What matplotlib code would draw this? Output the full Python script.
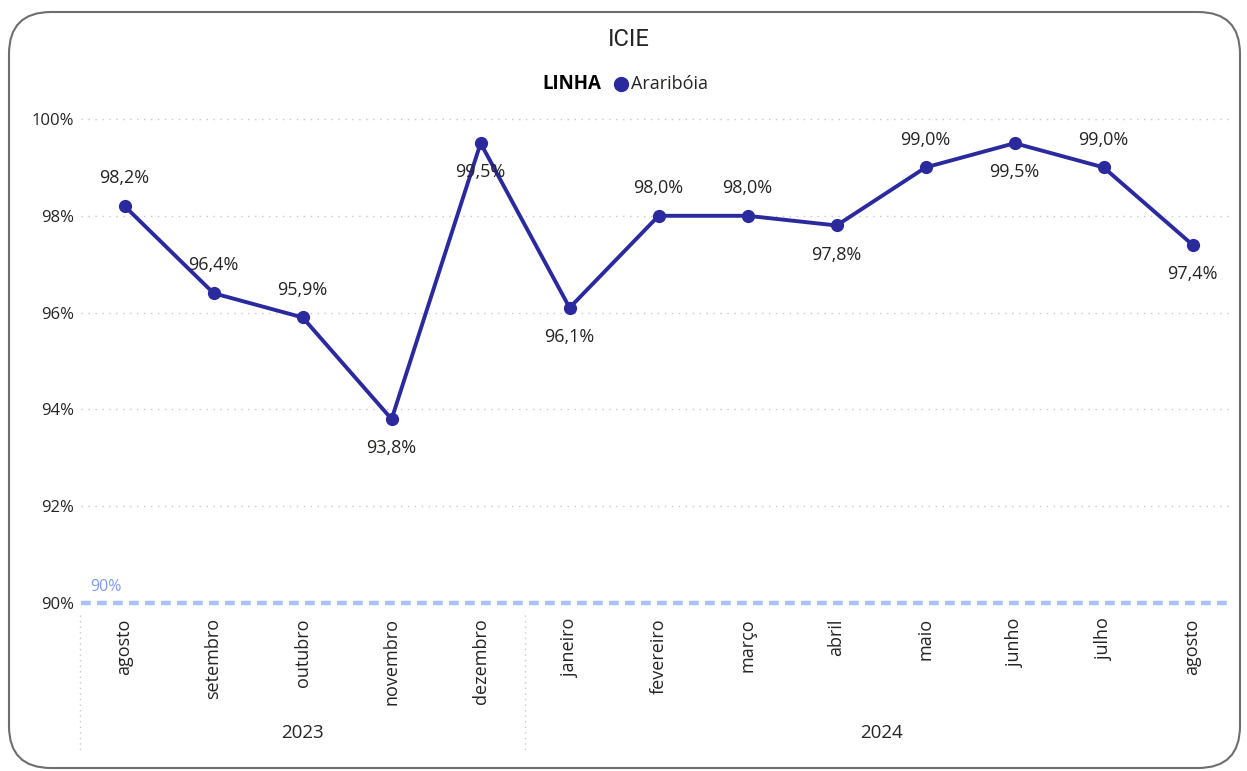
import matplotlib
matplotlib.use('Agg')
import matplotlib.pyplot as plt
from matplotlib.patches import FancyBboxPatch
from matplotlib.lines import Line2D
from matplotlib.transforms import blended_transform_factory

plt.rcParams['font.family'] = ['Open Sans', 'DejaVu Sans']

# DATA
months = ['agosto', 'setembro', 'outubro', 'novembro', 'dezembro', 'janeiro',
          'fevereiro', 'março', 'abril', 'maio', 'junho', 'julho', 'agosto']
years = ['2023', '2024']
year_counts = [5, 8]
values = [98.2, 96.4, 95.9, 93.8, 99.5, 96.1, 98.0, 98.0, 97.8, 99.0, 99.5, 99.0, 97.4]
label_above = [True, True, True, False, False, False, True, True, False, True, False, True, False]
target = 90
y_ticks = [90, 92, 94, 96, 98, 100]

line_color = '#2a2a9e'
text_color = '#252423'

fig = plt.figure(figsize=(12.47, 7.71), dpi=100)
ax = fig.add_axes([81 / 1247, 1 - 603 / 771, (1230 - 81) / 1247, (603 - 119) / 771])

x = list(range(len(months)))

# grid lines
for yt in y_ticks[1:]:
    ax.axhline(yt, color='#c8c8c8', linestyle=(0, (1, 4)), linewidth=1, zorder=1, clip_on=False)
ax.axhline(target, color='#a6c3fa', linestyle=(0, (2.2, 1.4)), linewidth=3.2, zorder=2,
           clip_on=False)
ax.text(0.008, target + 0.17, '90%', transform=blended_transform_factory(ax.transAxes, ax.transData),
        color='#7c9cf0', fontsize=11.5, va='bottom', ha='left')

ax.plot(x, values, color=line_color, linewidth=2.8, marker='o', markersize=8.5,
        zorder=5, clip_on=False)

for xi, v, up in zip(x, values, label_above):
    txt = f'{v:.1f}%'.replace('.', ',')
    ax.annotate(txt, (xi, v), xytext=(0, 20 if up else -21), textcoords='offset points',
                ha='center', va='center', fontsize=13, color=text_color, zorder=6)

ax.set_xlim(-0.49, 12.42)
ax.set_ylim(90, 100)
ax.set_yticks(y_ticks)
ax.set_yticklabels([f'{t}%' for t in y_ticks], fontsize=12, color=text_color)
ax.set_xticks(x)
ax.set_xticklabels(months, rotation=90, fontsize=13, color=text_color)
ax.tick_params(axis='both', length=0)
ax.tick_params(axis='x', pad=11)
ax.tick_params(axis='y', pad=5)
for s in ax.spines.values():
    s.set_visible(False)

# year groups
trans = blended_transform_factory(ax.transData, ax.transAxes)
start = 0
for yr, n in zip(years, year_counts):
    ax.add_line(Line2D([start - 0.5, start - 0.5], [-0.025, -0.31], transform=trans,
                       color='#c8c8c8', linestyle=(0, (1, 3)), linewidth=1, clip_on=False))
    ax.text(start + (n - 1) / 2, -0.269, yr, transform=trans, ha='center', va='center',
            fontsize=13.5, color=text_color)
    start += n

# title and legend
fig.text(629 / 1247, 1 - 40 / 771, 'ICIE', ha='center', va='center', fontsize=17,
         color=text_color, family=['Roboto', 'DejaVu Sans'])
fig.text(601 / 1247, 1 - 84 / 771, 'LINHA', ha='right', va='center', fontsize=13.5,
         fontweight='bold', color='#000000')
fig.add_artist(Line2D([621 / 1247], [1 - 84 / 771], marker='o', markersize=10,
                      color=line_color, transform=fig.transFigure))
fig.text(631 / 1247, 1 - 84 / 771, 'Araribóia', ha='left', va='center', fontsize=13,
         color=text_color)

# rounded border
frame = FancyBboxPatch((0.09, 0.03), 12.31, 7.56, boxstyle='round,pad=0,rounding_size=0.42',
                       transform=fig.dpi_scale_trans, facecolor='none', edgecolor='#6e6e6e',
                       linewidth=1.5)
fig.add_artist(frame)

fig.savefig('out.png', dpi=100)
